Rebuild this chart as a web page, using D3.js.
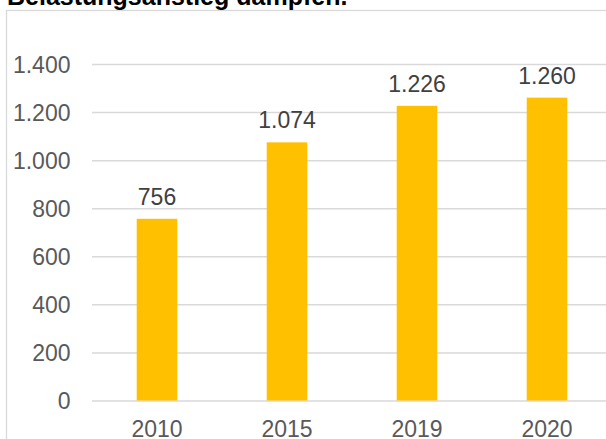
<!DOCTYPE html>
<html>
<head>
<meta charset="utf-8">
<script src="https://cdn.jsdelivr.net/npm/d3@7"></script>
<style>
  html, body { margin: 0; padding: 0; background: #ffffff; }
  svg { display: block; }
  text { font-family: Arial, "Liberation Sans", sans-serif; }
</style>
</head>
<body>
<svg id="chart" width="606" height="439"></svg>
<script>
const title = "Belastungsanstieg dämpfen.";
const categories = ["2010", "2015", "2019", "2020"];
const values = [756, 1074, 1226, 1260];
const yTicks = [0, 200, 400, 600, 800, 1000, 1200, 1400];

const de = d3.formatLocale({ decimal: ",", thousands: ".", grouping: [3], currency: ["", " €"] });
const fmt = de.format(",d");

const svg = d3.select("#chart");

// outer chart frame
svg.append("rect")
  .attr("x", 6.5).attr("y", 10.5)
  .attr("width", 620).attr("height", 460)
  .attr("fill", "none")
  .attr("stroke", "#d9d9d9")
  .attr("stroke-width", 1.3);

// title (partly cut off at the top, as in the reference)
svg.append("text")
  .attr("x", 7).attr("y", 5)
  .attr("font-size", 25)
  .attr("font-weight", "bold")
  .attr("fill", "#000000")
  .text(title);

const x = d3.scaleBand()
  .domain(categories)
  .range([92, 612])
  .paddingInner(0.688)
  .paddingOuter(0.344);

const y = d3.scaleLinear()
  .domain([0, 1400])
  .range([400.5, 64]);

// gridlines
const grid = svg.append("g")
  .attr("transform", "translate(92,0)")
  .call(d3.axisRight(y).tickValues(yTicks).tickSize(520).tickFormat(""));
grid.select(".domain").remove();
grid.selectAll("line").attr("stroke", "#d9d9d9").attr("stroke-width", 1.5);

// y labels
const yAxis = svg.append("g")
  .attr("transform", "translate(92,0)")
  .call(d3.axisLeft(y).tickValues(yTicks).tickSize(0).tickPadding(21.5).tickFormat(fmt));
yAxis.select(".domain").remove();
yAxis.selectAll("text")
  .attr("font-size", 23)
  .attr("font-family", "Arial, 'Liberation Sans', sans-serif")
  .attr("fill", "#595959")
  .attr("dy", "0.36em");

// bars
svg.append("g").selectAll("rect")
  .data(values)
  .join("rect")
  .attr("x", (d, i) => x(categories[i]))
  .attr("y", d => y(d))
  .attr("width", x.bandwidth())
  .attr("height", d => y(0) - y(d))
  .attr("fill", "#FFC000");

// data labels
svg.append("g").selectAll("text")
  .data(values)
  .join("text")
  .attr("x", (d, i) => x(categories[i]) + x.bandwidth() / 2)
  .attr("y", d => y(d) - 14)
  .attr("text-anchor", "middle")
  .attr("font-size", 23)
  .attr("fill", "#404040")
  .text(d => fmt(d));

// x axis
const xAxis = svg.append("g")
  .attr("transform", "translate(0,400.5)")
  .call(d3.axisBottom(x).tickSize(0).tickPadding(0));
xAxis.select(".domain").remove();
xAxis.selectAll("text")
  .attr("font-size", 23)
  .attr("font-family", "Arial, 'Liberation Sans', sans-serif")
  .attr("fill", "#595959")
  .attr("dy", null)
  .attr("y", 36.5);
</script>
</body>
</html>
